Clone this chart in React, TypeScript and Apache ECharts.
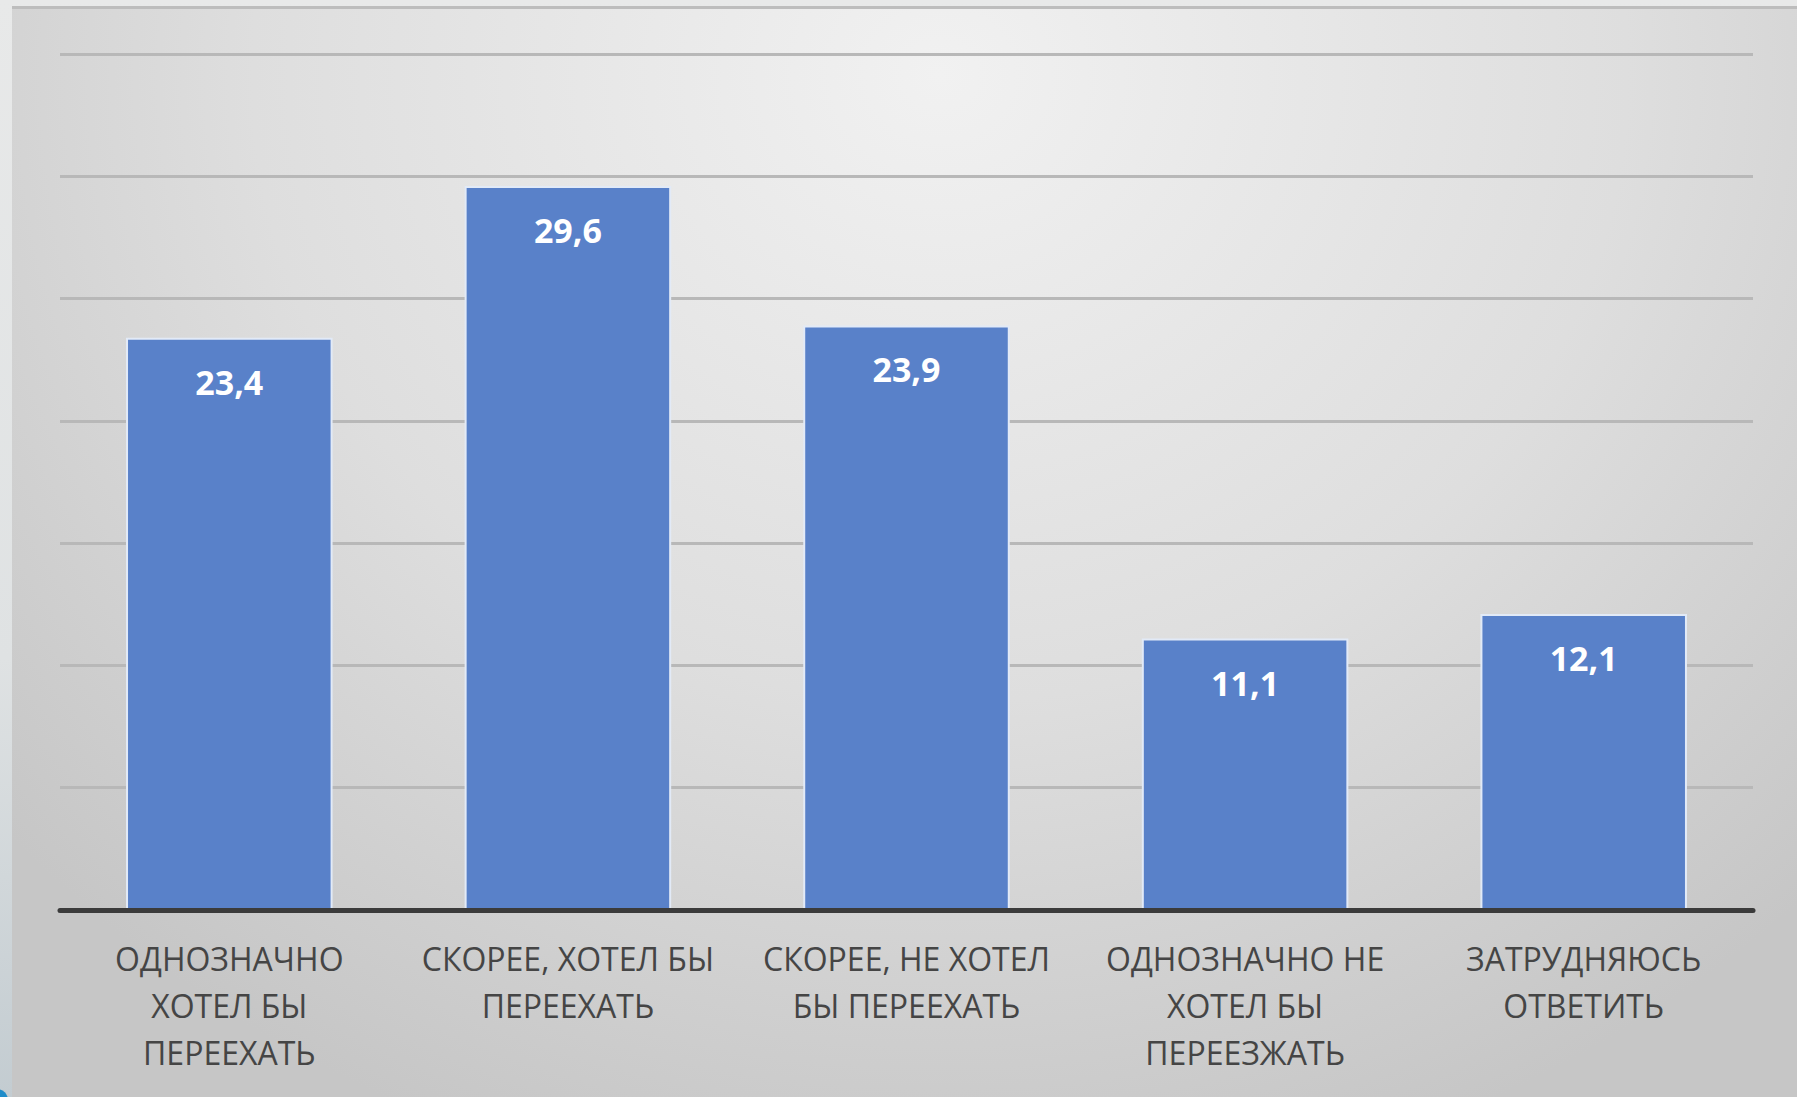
import React, { useEffect, useRef } from "react";
import * as echarts from "echarts";

const categories: string[] = [
  "ОДНОЗНАЧНО\nХОТЕЛ БЫ\nПЕРЕЕХАТЬ",
  "СКОРЕЕ, ХОТЕЛ БЫ\nПЕРЕЕХАТЬ",
  "СКОРЕЕ, НЕ ХОТЕЛ\nБЫ ПЕРЕЕХАТЬ",
  "ОДНОЗНАЧНО НЕ\nХОТЕЛ БЫ\nПЕРЕЕЗЖАТЬ",
  "ЗАТРУДНЯЮСЬ\nОТВЕТИТЬ",
];
const values: number[] = [23.4, 29.6, 23.9, 11.1, 12.1];
const yMin = 0;
const yMax = 35;
const yStep = 5;

export default function App() {
  const ref = useRef<HTMLDivElement>(null);
  useEffect(() => {
    if (!ref.current) return;
    const chart = echarts.init(ref.current, undefined, { renderer: "svg" });
    chart.setOption({
      animation: false,
      backgroundColor: "transparent",
      grid: { left: 60, right: 44, top: 54, bottom: 187, containLabel: false },
      xAxis: {
        type: "category",
        data: categories,
        axisLine: { show: true, lineStyle: { color: "#3b3b3b", width: 5 } },
        axisTick: { show: false },
        axisLabel: {
          interval: 0,
          color: "#454545",
          fontFamily: "Open Sans",
          fontSize: 32,
          lineHeight: 47,
          margin: 25,
        },
        z: 5,
      },
      yAxis: {
        type: "value",
        min: yMin,
        max: yMax,
        interval: yStep,
        axisLabel: { show: false },
        axisLine: { show: false },
        axisTick: { show: false },
        splitLine: { show: true, lineStyle: { color: "#b8b8b8", width: 3 } },
      },
      series: [
        {
          type: "bar",
          data: values,
          barWidth: "61%",
          itemStyle: { color: "#5981c9", borderColor: "#e2eaf7", borderWidth: 2 },
          label: {
            show: true,
            position: "insideTop",
            distance: 27,
            color: "#ffffff",
            fontFamily: "Open Sans",
            fontWeight: "bold",
            fontSize: 34,
            formatter: (p: any) => String(p.value).replace(".", ","),
          },
        },
      ],
    });
    return () => chart.dispose();
  }, []);

  return (
    <div
      style={{
        position: "absolute",
        left: 0,
        top: 0,
        width: 1797,
        height: 1097,
        overflow: "hidden",
        background: "linear-gradient(to bottom, #e8e9e9 0%, #dfe2e3 60%, #c3ccd1 100%)",
      }}
    >
      <div
        style={{
          position: "absolute",
          left: 12,
          top: 6,
          right: 0,
          bottom: 0,
          borderTop: "3px solid #bdbdbd",
          background:
            "radial-gradient(ellipse 70% 105% at 52% 6%, #f1f1f1 0%, #dedede 55%, #c6c6c6 100%)",
        }}
      />
      <div
        style={{
          position: "absolute",
          left: -14,
          bottom: -14,
          width: 22,
          height: 22,
          borderRadius: 11,
          background: "#1f8cc9",
        }}
      />
      <div
        ref={ref}
        style={{ position: "absolute", left: 0, top: 0, width: 1797, height: 1097 }}
      />
    </div>
  );
}
